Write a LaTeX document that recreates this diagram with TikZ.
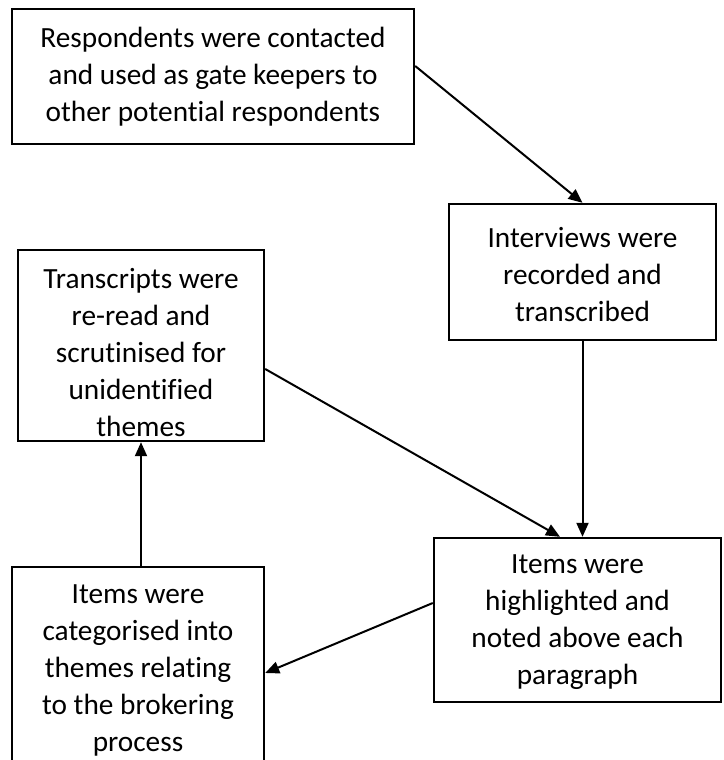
\documentclass[tikz,border=0pt]{standalone}
\usepackage{fontspec}
\setmainfont{Carlito}[Ligatures=NoCommon]
\usetikzlibrary{arrows.meta,calc}
\begin{document}
\begin{tikzpicture}[x=1pt,y=-1pt,
  stepbox/.style={draw=black,line width=2.4pt,fill=white,rectangle,inner sep=0pt},
  steptext/.style={inner sep=0pt,align=center,font=\fontsize{29.3}{37}\selectfont},
  flow/.style={draw=black,line width=2pt,-{Triangle[length=14pt,width=12pt]}}]
\useasboundingbox (0,0) rectangle (723,760);
\fill[white] (0,0) rectangle (723,760);

% boxes
\node[stepbox,minimum width=402pt,minimum height=135pt] (b1) at (213,76.5) {};
\node[stepbox,minimum width=267pt,minimum height=136pt] (b2) at (582.5,272) {};
\node[stepbox,minimum width=246pt,minimum height=191pt] (b3) at (141,345.5) {};
\node[stepbox,minimum width=287pt,minimum height=164pt] (b4) at (577.5,620) {};
\node[stepbox,minimum width=252pt,minimum height=206pt] (b5) at (138,670) {};

% box texts
\node[steptext] (t1) at (b1.center)
  {Respondents were contacted\\and used as gate keepers to\\other potential respondents};
\node[steptext] (t2) at ([yshift=-3pt]b2.center)
  {Interviews were\\recorded and\\transcribed};
\node[steptext] (t3) at ([yshift=-7pt]b3.center)
  {Transcripts were\\re-read and\\scrutinised for\\unidentified\\themes};
\node[steptext] (t4) at ([yshift=-2pt]b4.center)
  {Items were\\highlighted and\\noted above each\\paragraph};
\node[steptext] (t5) at (b5.center)
  {Items were\\categorised into\\themes relating\\to the brokering\\process};

% connectors
\draw[flow] ([yshift=10.5pt]b1.east) -- (b2.north);
\draw[flow] (b2.south) -- (b2.south |- b4.north);
\draw[flow] ([yshift=-23.5pt]b3.east) -- ([xshift=-17.5pt]b4.north);
\draw[flow] ([yshift=17pt]b4.west) -- ([yshift=-3pt]b5.east);
\draw[flow] (b5.north -| b3.south) -- (b3.south);
\end{tikzpicture}
\end{document}
